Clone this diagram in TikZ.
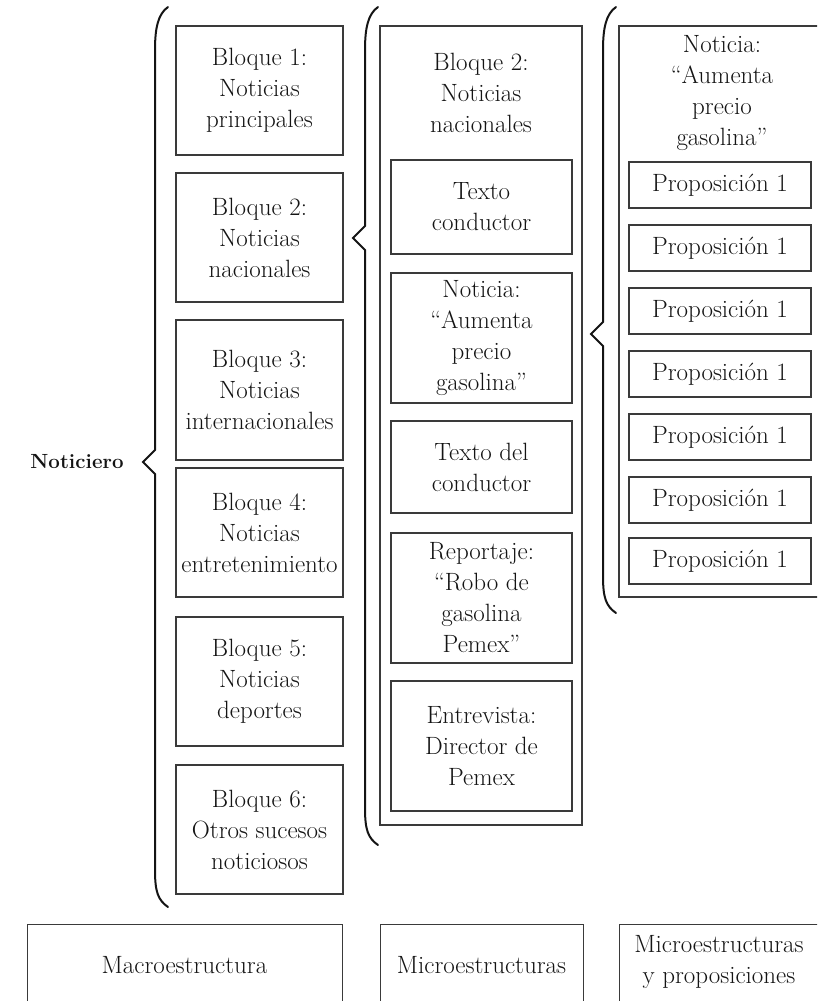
\documentclass[tikz,border=0pt]{standalone}
\usepackage{fontspec}
\usepackage{tikz}
\definecolor{boxgray}{HTML}{3A3A3A}
\definecolor{inkc}{HTML}{141414}
\newcommand{\mainsz}{\fontsize{25}{31}\selectfont}
\newcommand{\drawbrace}[5]{% x, ytop, ybot, ytip, xtip
  \draw[bracestyle] ({#1+13},{#2}) .. controls ({#1+3},{#2+7}) and ({#1},{#2+21}) .. ({#1},{#2+43})
    -- ({#1},{#4-12}) -- ({#5},{#4}) -- ({#1},{#4+12})
    -- ({#1},{#3-37}) .. controls ({#1},{#3-15}) and ({#1+3},{#3-7}) .. ({#1+13},{#3});}
\begin{document}
\begin{tikzpicture}[x=1pt,y=-1pt,
  box/.style={draw=boxgray, line width=1.1pt, inner sep=0pt, align=center, font=\mainsz, text=inkc},
  plain/.style={inner sep=0pt, align=center, font=\mainsz, text=inkc},
  bracestyle/.style={draw=inkc, line width=2pt, line cap=round, line join=miter}]
\useasboundingbox (0,0) rectangle (817,1001);
\clip (0,0) rectangle (817,1001);
% left label
\node[plain, font=\fontsize{20.5}{24}\selectfont\bfseries] (noticiero) at (77,462) {Noticiero};
% left column
\node[box, minimum width=167pt, minimum height=129pt] (b1) at (259.5,90.5) {Bloque 1:\\Noticias\\principales};
\node[box, minimum width=167pt, minimum height=129pt] (b2) at (259.5,237.5) {Bloque 2:\\Noticias\\nacionales};
\node[box, minimum width=167pt, minimum height=140pt] (b3) at (259.5,390) {Bloque 3:\\Noticias\\internacionales};
\node[box, minimum width=167pt, minimum height=129pt] (b4) at (259.5,532.5) {Bloque 4:\\Noticias\\entretenimiento};
\node[box, minimum width=167pt, minimum height=129pt] (b5) at (259.5,681.5) {Bloque 5:\\Noticias\\deportes};
\node[box, minimum width=167pt, minimum height=129pt] (b6) at (259.5,829.5) {Bloque 6:\\Otros sucesos\\noticiosos};
% middle column
\node[box, minimum width=202pt, minimum height=799pt] (mid) at (481,425.5) {};
\node[plain] (midhead) at (481,93) {Bloque 2:\\Noticias\\nacionales};
\node[box, minimum width=181pt, minimum height=94pt] (m1) at (481.5,207) {Texto\\conductor};
\node[box, minimum width=181pt, minimum height=130pt] (m2) at (481.5,338) {Noticia:\\``Aumenta\\precio\\gasolina''};
\node[box, minimum width=181pt, minimum height=92pt] (m3) at (481.5,467) {Texto del\\conductor};
\node[box, minimum width=181pt, minimum height=130pt] (m4) at (481.5,598) {Reportaje:\\``Robo de\\gasolina\\Pemex''};
\node[box, minimum width=181pt, minimum height=130pt] (m5) at (481.5,746) {Entrevista:\\Director de\\Pemex};
% right column
\node[box, minimum width=211pt, minimum height=571pt] (rgt) at (724.5,311.5) {};
\node[plain] (rhead) at (722,93) {Noticia:\\``Aumenta\\precio\\gasolina''};
\foreach \i/\yc in {1/185,2/248,3/311,4/374,5/437,6/500,7/561} {
  \node[box, minimum width=182pt, minimum height=46pt] (p\i) at (720,\yc) {Proposición 1};
}
% braces
\drawbrace{155}{7}{907}{462}{143}
\drawbrace{365}{7}{845}{238}{353}
\drawbrace{603}{7}{613}{334}{591}
% bottom labels
\node[box, minimum width=315pt, minimum height=100pt, anchor=north west] (macro) at (27,924) {};
\node[plain] (macrot) at (184.5,965) {Macroestructura};
\node[box, minimum width=203pt, minimum height=100pt, anchor=north west] (micro) at (380,924) {};
\node[plain] (microt) at (481.5,965) {Microestructuras};
\node[box, minimum width=220pt, minimum height=100pt, anchor=north west] (microp) at (619,924) {};
\node[plain] (micropt) at (719,962) {Microestructuras\\y proposiciones};
\end{tikzpicture}
\end{document}
